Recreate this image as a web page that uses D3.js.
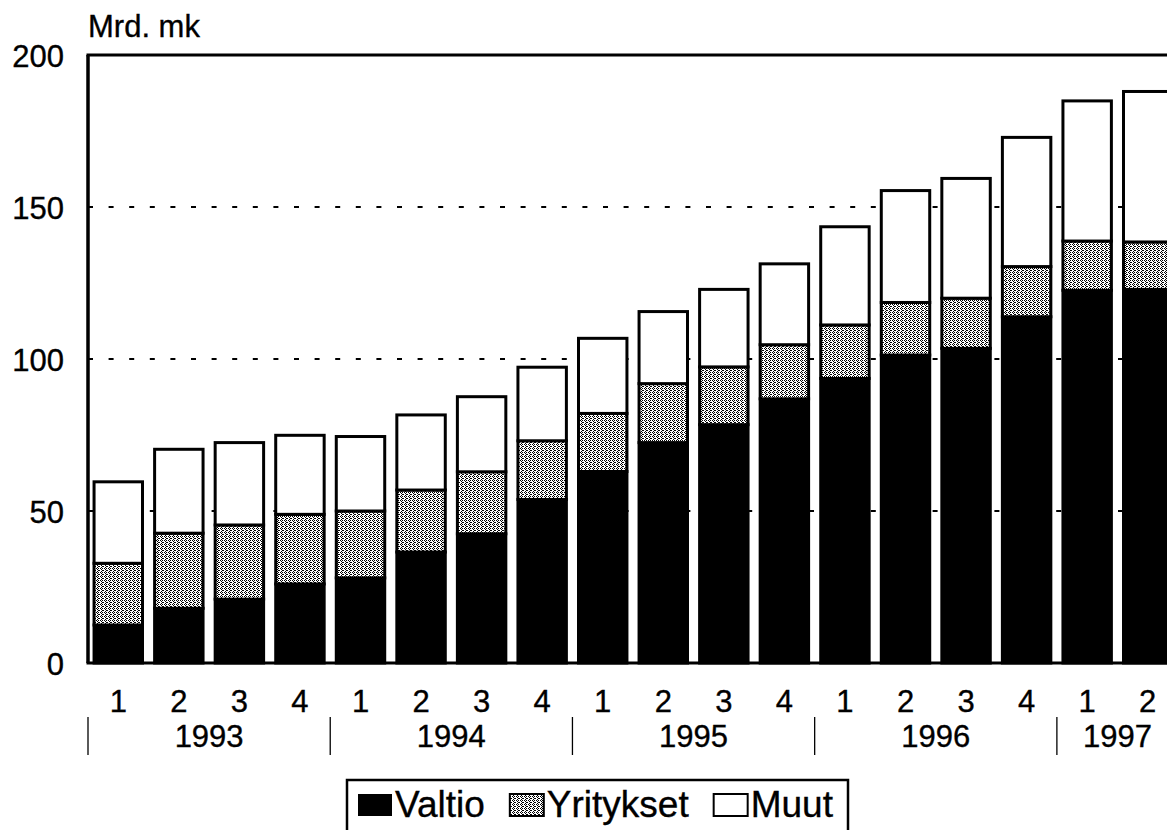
<!DOCTYPE html>
<html>
<head>
<meta charset="utf-8">
<script src="https://cdn.jsdelivr.net/npm/d3@7"></script>
<style>
  html, body { margin: 0; padding: 0; background: #fff; }
  svg { display: block; }
  text { font-family: "Liberation Sans", Arial, Helvetica, sans-serif; fill: #000; stroke: #000; stroke-width: 0.35px; }
</style>
</head>
<body>
<svg id="chart" width="1167" height="830"></svg>
<script>
// ---- data ----
const quarters = ["1","2","3","4","1","2","3","4","1","2","3","4","1","2","3","4","1","2"];
const years = ["1993","1994","1995","1996","1997"];
const quartersPerYear = [4, 4, 4, 4, 2];
const valtio =     [12.5, 18.0, 21.0, 26.0, 28.0, 36.5, 42.5, 53.8, 63.0, 72.5, 78.4, 86.9, 93.6, 101.3, 103.5, 113.9, 122.6, 122.9];
const yritykset =  [20.3, 24.7, 24.4, 22.9, 22.0, 20.4, 20.4, 19.3, 19.1, 19.4, 19.0, 17.8, 17.6, 17.3, 16.5, 16.5, 16.2, 15.6];
const muut =       [26.8, 27.6, 27.1, 26.0, 24.5, 24.7, 24.7, 24.2, 24.7, 23.7, 25.5, 26.6, 32.3, 36.8, 39.4, 42.5, 46.1, 49.5];
const seriesNames = ["Valtio", "Yritykset", "Muut"];
const yTicks = [0, 50, 100, 150, 200];
const gridTicks = [50, 100, 150];
const unitLabel = "Mrd. mk";

(function () {
// ---- layout ----
const svg = d3.select("#chart");
const pLeft = 88, pTop = 55, pBottom = 663, pRight = 1178;

const idx = d3.range(quarters.length);
const x = d3.scaleBand().domain(idx).range([pLeft, pRight]).paddingInner(0.2).paddingOuter(0.1);
const y = d3.scaleLinear().domain([0, 200]).range([pBottom, pTop]);

// stipple pattern for Yritykset
const defs = svg.append("defs");
const pat = defs.append("pattern").attr("id", "stipple").attr("patternUnits", "userSpaceOnUse")
  .attr("width", 4).attr("height", 4);
pat.append("rect").attr("width", 4).attr("height", 4).attr("fill", "#fff");
[[0,0],[2,0],[1,1],[3,2],[1,3],[2,2]].forEach(([px, py]) => {
  pat.append("rect").attr("x", px).attr("y", py).attr("width", 1).attr("height", 1).attr("fill", "#000");
});

svg.append("rect").attr("width", 1167).attr("height", 830).attr("fill", "#fff");

// gridlines
svg.append("g").selectAll("line").data(gridTicks).join("line")
  .attr("x1", pLeft).attr("x2", pRight)
  .attr("y1", d => y(d)).attr("y2", d => y(d))
  .attr("stroke", "#000").attr("stroke-width", 1.8)
  .attr("stroke-dasharray", "5,15.6");

// stacked bars
const table = idx.map(i => ({ i, Valtio: valtio[i], Yritykset: yritykset[i], Muut: muut[i] }));
const stack = d3.stack().keys(seriesNames)(table);
const fills = { Valtio: "#000", Yritykset: "url(#stipple)", Muut: "#fff" };

svg.append("g").selectAll("g").data(stack).join("g")
  .attr("fill", d => fills[d.key])
  .selectAll("rect").data(d => d).join("rect")
  .attr("x", d => x(d.data.i))
  .attr("width", x.bandwidth())
  .attr("y", d => y(d[1]))
  .attr("height", d => y(d[0]) - y(d[1]))
  .attr("stroke", "#000").attr("stroke-width", 3);

// frame: left axis, top line, bottom line
svg.append("line").attr("x1", pLeft).attr("x2", pLeft).attr("y1", pTop).attr("y2", pBottom)
  .attr("stroke", "#000").attr("stroke-width", 3.5);
svg.append("line").attr("x1", pLeft - 1.5).attr("x2", 1167).attr("y1", pTop).attr("y2", pTop)
  .attr("stroke", "#000").attr("stroke-width", 3);
svg.append("line").attr("x1", pLeft - 1.5).attr("x2", 1167).attr("y1", pBottom).attr("y2", pBottom)
  .attr("stroke", "#000").attr("stroke-width", 3);

// y labels
svg.append("g").selectAll("text").data(yTicks).join("text")
  .attr("x", 64).attr("y", d => y(d) + 12)
  .attr("text-anchor", "end").attr("font-size", 31)
  .text(d => d);
svg.append("text").attr("x", 88).attr("y", 37).attr("font-size", 31).text(unitLabel);

// quarter labels
svg.append("g").selectAll("text").data(idx).join("text")
  .attr("x", i => x(i) + x.bandwidth() / 2).attr("y", 712)
  .attr("text-anchor", "middle").attr("font-size", 31)
  .text(i => quarters[i]);

// year labels + separators
const step = x.step();
let start = 0;
const yearData = years.map((yr, k) => {
  const d = { yr, s: start, n: quartersPerYear[k] };
  start += quartersPerYear[k];
  return d;
});
svg.append("g").selectAll("line").data(yearData).join("line")
  .attr("x1", d => pLeft + d.s * step).attr("x2", d => pLeft + d.s * step)
  .attr("y1", 717).attr("y2", 755)
  .attr("stroke", "#000").attr("stroke-width", 1.3);
svg.append("g").selectAll("text").data(yearData).join("text")
  .attr("x", d => pLeft + (d.s + d.n / 2) * step).attr("y", 747)
  .attr("text-anchor", "middle").attr("font-size", 31)
  .text(d => d.yr);

// legend
const lg = svg.append("g");
lg.append("rect").attr("x", 347).attr("y", 780).attr("width", 501).attr("height", 80)
  .attr("fill", "#fff").attr("stroke", "#000").attr("stroke-width", 2.5);
let lx = 358;
seriesNames.forEach((name) => {
  lg.append("rect").attr("x", lx).attr("y", 794).attr("width", 34).attr("height", 22)
    .attr("fill", fills[name]).attr("stroke", "#000").attr("stroke-width", name === "Valtio" ? 0 : 2);
  const t = lg.append("text").attr("x", lx + 37).attr("y", 817).attr("font-size", 37).text(name);
  lx = lx + 37 + t.node().getComputedTextLength() + 25;
});
})();
</script>
</body>
</html>
